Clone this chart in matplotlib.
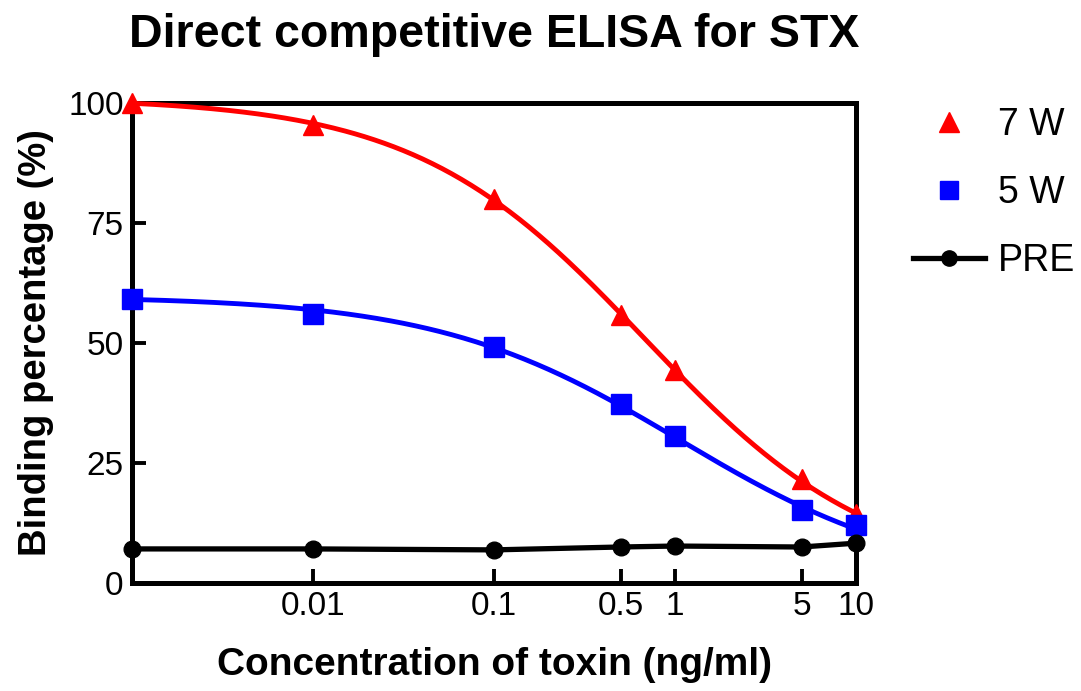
import numpy as np
import matplotlib.pyplot as plt
from matplotlib.lines import Line2D

plt.rcParams['font.family'] = ['Liberation Sans', 'DejaVu Sans']

# концентрации токсина (ng/ml)
conc = [0.001, 0.01, 0.1, 0.5, 1, 5, 10]
# процент связывания
w7 = [100.0, 95.4, 80.0, 55.8, 44.4, 21.7, 14.4]
w5 = [59.2, 56.0, 49.2, 37.3, 30.6, 15.2, 12.1]
pre = [7.1, 7.1, 6.9, 7.5, 7.7, 7.5, 8.3]

xticks = [0.01, 0.1, 0.5, 1, 5, 10]
xtick_labels = ['0.01', '0.1', '0.5', '1', '5', '10']
yticks = [0, 25, 50, 75, 100]


def fit_4pl(x, y):
    """Подгонка 4-параметрической логистики (перебор top/bottom + линейная регрессия)."""
    x = np.asarray(x, float)
    y = np.asarray(y, float)
    best = None
    for top in np.linspace(y.max() + 0.1, y.max() * 1.15, 60):
        for bot in np.linspace(-10, y.min() - 0.1, 60):
            z = np.log((top - y) / (y - bot))
            h, b = np.polyfit(np.log(x), z, 1)
            pred = bot + (top - bot) / (1 + np.exp(h * np.log(x) + b))
            sse = np.sum((pred - y) ** 2)
            if best is None or sse < best[0]:
                best = (sse, top, bot, h, b)
    _, top, bot, h, b = best
    return lambda t: bot + (top - bot) / (1 + np.exp(h * np.log(t) + b))


xs = np.logspace(np.log10(conc[0]), np.log10(conc[-1]), 300)
f7 = fit_4pl(conc, w7)
f5 = fit_4pl(conc, w5)

fig = plt.figure(figsize=(10.81, 6.91), dpi=100)
ax = fig.add_axes([0.1221, 0.1563, 0.6698, 0.6946])

ax.plot(xs, f7(xs), color='#ff0000', lw=3.5, clip_on=False, zorder=3)
ax.plot(conc, w7, '^', color='#ff0000', ms=15, clip_on=False, zorder=4)
ax.plot(xs, f5(xs), color='#0000ff', lw=3.5, clip_on=False, zorder=3)
ax.plot(conc, w5, 's', color='#0000ff', ms=14, clip_on=False, zorder=4)
ax.plot(conc, pre, '-o', color='black', lw=3.8, ms=12, clip_on=False, zorder=5)

ax.set_xscale('log')
ax.set_xlim(0.001, 10)
ax.set_ylim(0, 100)
ax.set_xticks(xticks)
ax.set_xticklabels(xtick_labels)
ax.xaxis.set_minor_locator(plt.NullLocator())
ax.set_yticks(yticks)

for s in ax.spines.values():
    s.set_linewidth(3.6)
ax.tick_params(direction='in', length=10, width=2.8, labelsize=24, pad=6)

ax.set_title('Direct competitive ELISA for STX', fontsize=33.5, fontweight='bold', pad=40)
ax.set_xlabel('Concentration of toxin (ng/ml)', fontsize=28, fontweight='bold', labelpad=18)
ax.set_ylabel('Binding percentage (%)', fontsize=27.5, fontweight='bold', labelpad=10)

handles = [
    Line2D([], [], ls='none', marker='^', color='#ff0000', ms=15),
    Line2D([], [], ls='none', marker='s', color='#0000ff', ms=13),
    Line2D([], [], ls='-', marker='o', color='black', lw=3.8, ms=11),
]
fig.legend(handles, ['7 W', '5 W', 'PRE'], loc='upper left', bbox_to_anchor=(0.845, 0.845),
           frameon=False, fontsize=27, labelspacing=0.85, handlelength=1.9,
           handletextpad=0.35, borderpad=0, borderaxespad=0)

fig.savefig('out.png', dpi=100)
